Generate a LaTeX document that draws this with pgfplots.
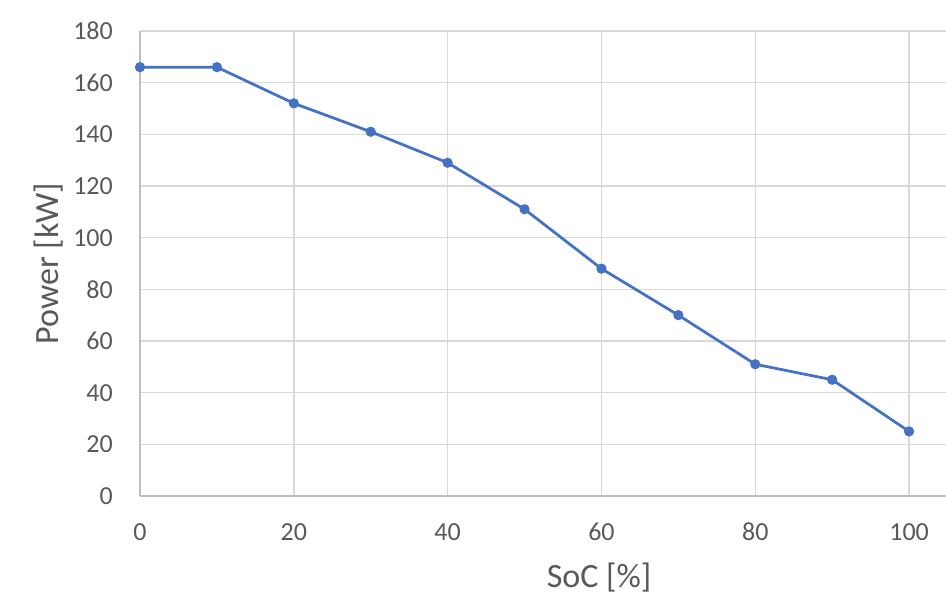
\documentclass[border=0pt]{standalone}
\usepackage{pgfplots}
\pgfplotsset{compat=1.18}
\usepackage{fontspec}
\setmainfont{Carlito}
\definecolor{txt}{HTML}{595959}
\definecolor{grd}{HTML}{D9D9D9}
\definecolor{axl}{HTML}{BFBFBF}
\definecolor{ser}{HTML}{4472C4}
\begin{document}
\begin{tikzpicture}[x=1pt,y=1pt]
\useasboundingbox (-140,-106) rectangle (806,496);
\begin{axis}[
  at={(0,0)}, anchor=south west,
  scale only axis, width=806pt, height=465pt,
  xmin=0, xmax=104.8, ymin=0, ymax=180,
  xtick={0,20,...,100}, ytick={0,20,...,180},
  grid=major, major grid style={grd, line width=1.4pt},
  axis lines*=left, axis line style={axl, line width=1.4pt, -},
  major tick length=0pt,
  tick label style={font=\fontsize{26}{30}\selectfont, text=txt, inner sep=0pt},
  /pgf/number format/assume math mode=true,
  xticklabel style={anchor=north, yshift=-27pt},
  yticklabel style={anchor=east, xshift=-27pt},
  xlabel={SoC [\%]}, ylabel={Power [kW]},
  label style={font=\fontsize{34}{40}\selectfont, text=txt},
  xlabel style={at={(axis description cs:0.5695,-0.1763)}, anchor=center},
  ylabel style={at={(axis description cs:-0.1129,0.5)}, anchor=center},
  clip=false,
]
\addplot[ser, line width=2.75pt, mark=*, mark size=4.6pt, mark options={solid, fill=ser, draw=ser, line width=1pt}]
coordinates {
(0,166) (10,166) (20,152) (30,141) (40,129) (50,111) (60,88) (70,70) (80,51) (90,45) (100,25)
};
\end{axis}
\end{tikzpicture}
\end{document}
